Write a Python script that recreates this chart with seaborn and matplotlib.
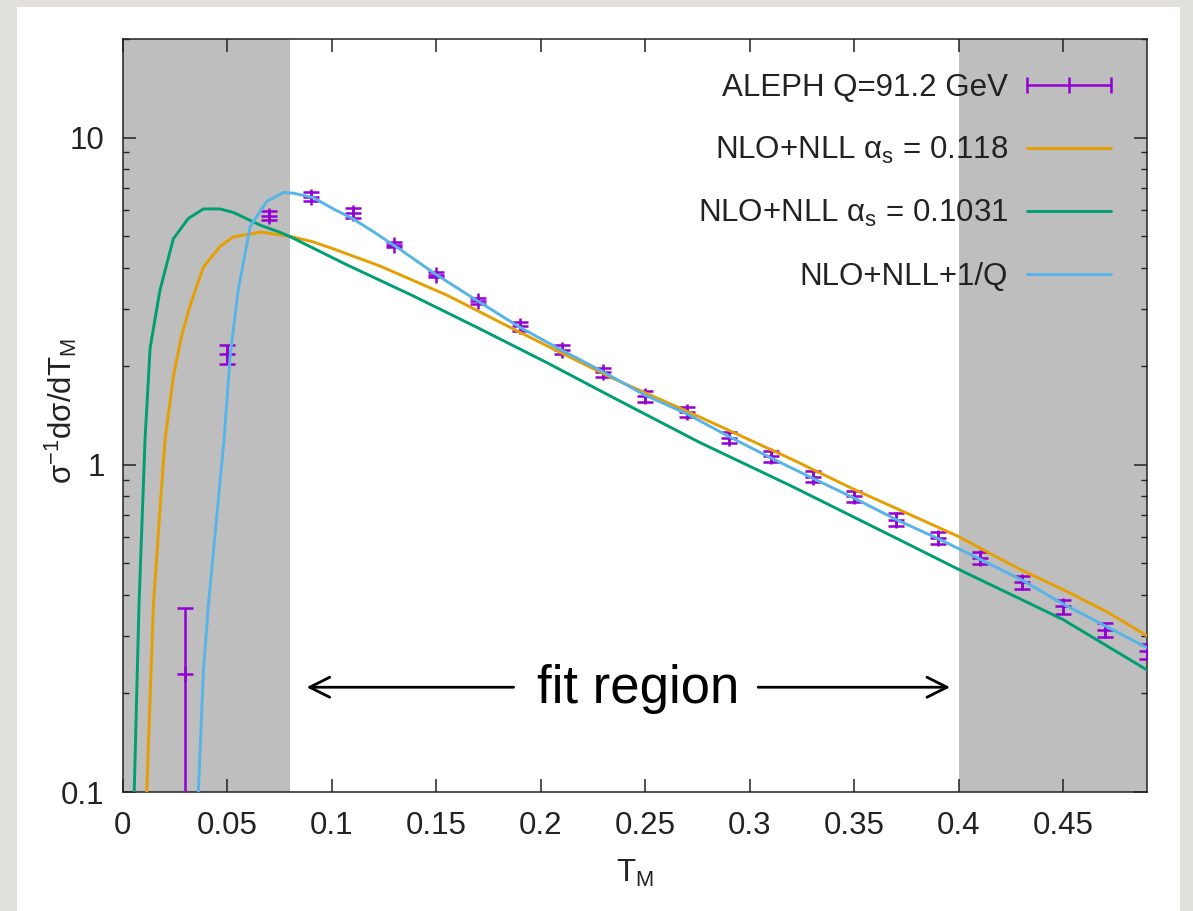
import numpy as np
import pandas as pd
import matplotlib
matplotlib.use("Agg")
import matplotlib.pyplot as plt
import seaborn as sns
from matplotlib.lines import Line2D
from matplotlib.legend_handler import HandlerLine2D
from matplotlib.patches import Rectangle
from matplotlib.ticker import FixedLocator, FixedFormatter, NullLocator, LogLocator, NullFormatter

# ---------------- data ----------------
aleph_T = [0.03, 0.05, 0.07, 0.09, 0.11, 0.13, 0.15, 0.17, 0.19, 0.21, 0.23, 0.25,
           0.27, 0.29, 0.31, 0.33, 0.35, 0.37, 0.39, 0.41, 0.43, 0.45, 0.47, 0.49]
aleph_val = [0.23, 2.18, 5.77, 6.6, 5.88, 4.71, 3.81, 3.16, 2.65, 2.25, 1.92, 1.62,
             1.45, 1.21, 1.06, 0.92, 0.80, 0.68, 0.598, 0.52, 0.437, 0.369, 0.313, 0.269]
aleph_err = [0.135, 0.15, 0.18, 0.2, 0.19, 0.08, 0.07, 0.07, 0.09, 0.07, 0.06, 0.06,
             0.05, 0.045, 0.04, 0.035, 0.03, 0.03, 0.025, 0.022, 0.02, 0.018, 0.016, 0.014]

nll118_T = [0.0115, 0.0147, 0.0182, 0.0203, 0.0242, 0.028, 0.0322, 0.0386, 0.0466, 0.0529,
            0.066, 0.080, 0.091, 0.1007, 0.123, 0.155, 0.190, 0.209, 0.235, 0.276,
            0.32, 0.35, 0.372, 0.399, 0.429, 0.450, 0.471, 0.49]
nll118_val = [0.1, 0.373, 0.788, 1.2, 1.85, 2.45, 3.06, 4.02, 4.65, 4.97,
              5.14, 4.99, 4.80, 4.57, 4.05, 3.30, 2.54, 2.21, 1.83, 1.40,
              1.04, 0.84, 0.726, 0.607, 0.48, 0.415, 0.355, 0.30]

nll1031_T = [0.0055, 0.0078, 0.0107, 0.0131, 0.0178, 0.0242, 0.0314, 0.0386, 0.0465, 0.053,
             0.0657, 0.0753, 0.080, 0.107, 0.139, 0.171, 0.203, 0.235, 0.276, 0.32,
             0.372, 0.399, 0.429, 0.450, 0.49]
nll1031_val = [0.1, 0.373, 1.2, 2.27, 3.41, 4.9, 5.66, 6.05, 6.05, 5.9,
               5.40, 5.13, 4.98, 4.09, 3.28, 2.60, 2.05, 1.60, 1.17, 0.86,
               0.588, 0.482, 0.39, 0.336, 0.236]

nllq_T = [0.0362, 0.0386, 0.041, 0.0485, 0.0515, 0.0553, 0.061, 0.0689, 0.0768, 0.0816,
          0.0912, 0.1008, 0.11, 0.12, 0.1327, 0.15, 0.17, 0.19, 0.21, 0.23, 0.25,
          0.27, 0.29, 0.31, 0.33, 0.35, 0.37, 0.39, 0.41, 0.43, 0.45, 0.47, 0.49]
nllq_val = [0.1, 0.234, 0.373, 1.2, 2.18, 3.43, 5.35, 6.38, 6.79, 6.76,
            6.55, 6.05, 5.65, 5.15, 4.55, 3.81, 3.16, 2.63, 2.24, 1.92, 1.63,
            1.43, 1.22, 1.05, 0.91, 0.79, 0.68, 0.595, 0.515, 0.445, 0.375, 0.322, 0.276]

x_ticks = [0, 0.05, 0.1, 0.15, 0.2, 0.25, 0.3, 0.35, 0.4, 0.45]
x_tick_labels = ["0", "0.05", "0.1", "0.15", "0.2", "0.25", "0.3", "0.35", "0.4", "0.45"]
y_ticks = [0.1, 1, 10]
y_tick_labels = ["0.1", "1", "10"]

labels = ["ALEPH Q=91.2 GeV",
          r"NLO+NLL α$_\mathrm{s}$ = 0.118",
          r"NLO+NLL α$_\mathrm{s}$ = 0.1031",
          "NLO+NLL+1/Q"]

# ---------------- style ----------------
sns.set_theme(style="ticks")
plt.rcParams["font.family"] = ["Liberation Sans", "DejaVu Sans"]
plt.rcParams["mathtext.fontset"] = "custom"
plt.rcParams["mathtext.rm"] = "Liberation Sans"
plt.rcParams["mathtext.it"] = "Liberation Sans:italic"
plt.rcParams["mathtext.bf"] = "Liberation Sans:bold"

PURPLE = "#9400D3"
ORANGE = "#E69F00"
GREEN = "#009E73"
BLUE = "#56B4E9"
SHADE = "#BEBEBE"
FS = 22.5

fig = plt.figure(figsize=(11.93, 9.11), dpi=100)
fig.patch.set_facecolor("#E2E0DB")
fig.add_artist(Rectangle((17 / 1193, 0), (1180 - 17) / 1193, 1 - 7 / 911,
                         transform=fig.transFigure, facecolor="white",
                         edgecolor="none", zorder=-10))
ax = fig.add_axes([122.7 / 1193, 1 - 792 / 911, (1147 - 122.7) / 1193, (792 - 39) / 911])
ax.set_facecolor("white")

# shaded regions outside the fit region
ax.axvspan(0.0, 0.08, color=SHADE, zorder=0, lw=0)
ax.axvspan(0.4, 0.49, color=SHADE, zorder=0, lw=0)

# data with error bars
df_data = pd.DataFrame({"T": aleph_T, "v": aleph_val, "e": aleph_err})
ax.errorbar(df_data["T"], df_data["v"], yerr=df_data["e"], fmt="+", color=PURPLE,
            ecolor=PURPLE, elinewidth=1.8, capsize=5.5, capthick=1.8,
            markersize=11, markeredgewidth=1.8, zorder=3)

# theory curves
curves = [(nll118_T, nll118_val, ORANGE), (nll1031_T, nll1031_val, GREEN),
          (nllq_T, nllq_val, BLUE)]
line_handles = []
for T, v, c in curves:
    d = pd.DataFrame({"T": T, "v": v})
    sns.lineplot(data=d, x="T", y="v", ax=ax, color=c, lw=2.1, sort=False,
                 estimator=None, zorder=4)
    line_handles.append(ax.lines[-1])

ax.set_yscale("log")
ax.set_xlim(0, 0.49)
ax.set_ylim(0.1, 20)

ax.xaxis.set_major_locator(FixedLocator(x_ticks))
ax.xaxis.set_major_formatter(FixedFormatter(x_tick_labels))
ax.xaxis.set_minor_locator(NullLocator())
ax.yaxis.set_major_locator(FixedLocator(y_ticks))
ax.yaxis.set_major_formatter(FixedFormatter(y_tick_labels))
ax.yaxis.set_minor_locator(LogLocator(base=10, subs=np.arange(2, 10)))
ax.yaxis.set_minor_formatter(NullFormatter())

ax.tick_params(which="both", direction="in", top=True, right=True, colors="#222222",
               labelcolor="#222222", labelsize=FS)
ax.tick_params(which="major", length=9.5, width=1.1)
ax.tick_params(which="minor", length=4.5, width=1.0)
ax.tick_params(axis="x", pad=14)
ax.tick_params(axis="y", pad=13)
for s in ax.spines.values():
    s.set_color("#222222")
    s.set_linewidth(1.1)

ax.set_xlabel(r"T$_\mathrm{M}$", fontsize=FS, color="#222222", labelpad=12)
ax.set_ylabel(r"σ$^{-1}$dσ/dT$_\mathrm{M}$", fontsize=FS, color="#222222", va="center")
ax.yaxis.set_label_coords(-0.06, 0.506)

# fit region annotation
arrow_kw = dict(arrowstyle="->,head_length=0.72,head_width=0.36", lw=2.0, color="black",
                shrinkA=0, shrinkB=0, mutation_scale=20)
ax.annotate("", xy=(0.088, 0.209), xytext=(0.187, 0.209), arrowprops=arrow_kw, zorder=5)
ax.annotate("", xy=(0.3958, 0.209), xytext=(0.304, 0.209), arrowprops=arrow_kw, zorder=5)
ax.text(0.2466, 0.187, "fit region", fontsize=38, ha="center", va="baseline",
        color="black", zorder=5)

# legend
err_proxy = Line2D([], [], color=PURPLE, lw=1.8, marker="|", markersize=11,
                   markeredgewidth=1.8)
handles = [err_proxy] + line_handles
leg = ax.legend(handles, labels, loc="upper right", bbox_to_anchor=(0.9649, 0.955),
                frameon=False, borderpad=0, borderaxespad=0, markerfirst=False,
                handlelength=2.7, handletextpad=0.6, labelspacing=1.03, fontsize=FS,
                handler_map={err_proxy: HandlerLine2D(numpoints=3, marker_pad=0)})
for t in leg.get_texts():
    t.set_color("#222222")

fig.savefig("out.png", dpi=100, facecolor=fig.get_facecolor())
